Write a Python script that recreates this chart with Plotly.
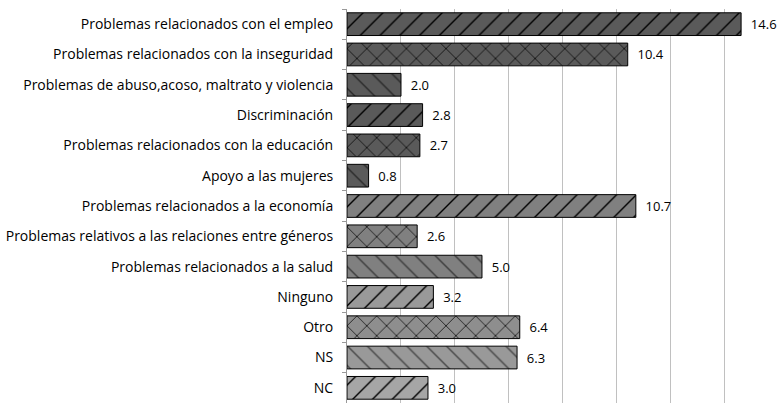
import plotly.graph_objects as go

categories = [
    "Problemas relacionados con el empleo",
    "Problemas relacionados con la inseguridad",
    "Problemas de abuso,acoso, maltrato y violencia",
    "Discriminación",
    "Problemas relacionados con la educación",
    "Apoyo a las mujeres",
    "Problemas relacionados a la economía",
    "Problemas relativos a las relaciones entre géneros",
    "Problemas relacionados a la salud",
    "Ninguno",
    "Otro",
    "NS",
    "NC",
]
values = [14.6, 10.4, 2.0, 2.8, 2.7, 0.8, 10.7, 2.6, 5.0, 3.2, 6.4, 6.3, 3.0]
fill_colors = ["#5a5a5a"] * 6 + ["#808080"] * 3 + ["#999999", "#8e8e8e", "#999999", "#a6a6a6"]
patterns = ["/", "x", "\\", "/", "x", "\\", "/", "x", "\\", "/", "x", "\\", "/"]

fig = go.Figure()
for cat, val, col, pat in zip(categories, values, fill_colors, patterns):
    dotted = pat == "\\"
    fig.add_trace(
        go.Bar(
            y=[cat],
            x=[val],
            orientation="h",
            width=0.75,
            marker=dict(
                color=col,
                line=dict(color="#000000", width=1),
                pattern=dict(
                    shape=pat,
                    fillmode="overlay",
                    bgcolor=col,
                    fgcolor="#000000",
                    fgopacity=0.55 if dotted else 1,
                    size=14,
                    solidity=0.1,
                ),
            ),
            text=["\u00a0\u00a0" + f"{val:.1f}"],
            textposition="outside",
            constraintext="none",
            textfont=dict(family="Open Sans", size=13, color="#000000"),
            cliponaxis=False,
        )
    )

fig.update_layout(
    width=777,
    height=403,
    margin=dict(l=347, r=0, t=9, b=0),
    paper_bgcolor="white",
    plot_bgcolor="white",
    showlegend=False,
    barmode="overlay",
    font=dict(family="Open Sans", size=14, color="#000000"),
    xaxis=dict(
        range=[0, 15.93],
        dtick=2,
        showgrid=True,
        gridcolor="#c0c0c0",
        gridwidth=1,
        zeroline=False,
        showticklabels=False,
        showline=False,
        ticks="",
    ),
    yaxis=dict(
        categoryorder="array",
        categoryarray=categories,
        showline=True,
        linecolor="#999999",
        linewidth=1,
        ticks="outside",
        ticklen=4,
        tickcolor="#999999",
        tickson="boundaries",
        ticklabelstandoff=10,
        tickfont=dict(family="Open Sans", size=14, color="#000000"),
        range=[12.5, -0.5],
    ),
)

fig.write_html(
    "out.html",
    config={"displayModeBar": False},
    post_script="document.body.style.margin='0';",
)
